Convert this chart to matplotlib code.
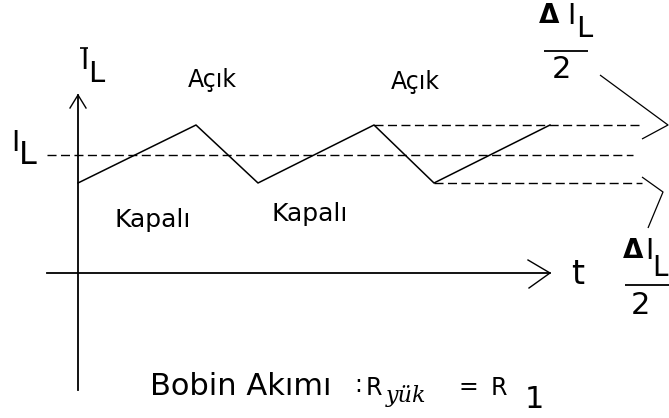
import matplotlib
matplotlib.use("Agg")
import matplotlib.pyplot as plt

# ---- data (t, i_L in drawing units; origin at axis crossing) ----
t_wave = [0, 118, 180, 296, 356, 472]
i_wave = [90, 148, 90, 148, 90, 148]
i_avg = 118
i_max = 148
i_min = 90
t_max_start = 296
t_min_start = 356
state_labels = ["Açık", "Açık", "Kapalı", "Kapalı"]

fig = plt.figure(figsize=(6.69, 4.18), dpi=100)
ax = fig.add_axes([0, 0, 1, 1])
ax.set_xlim(-78, 591)
ax.set_ylim(-145, 273)
ax.axis("off")

K = "black"

def P(px, py):
    return px - 78, 273 - py

def T(px, py, s, size, ha="center", va="center", **kw):
    x, y = P(px, py)
    ax.text(x, y, s, fontsize=size, ha=ha, va=va, color=K, **kw)

def L(pts, lw=1.0, **kw):
    xs = [P(*p)[0] for p in pts]
    ys = [P(*p)[1] for p in pts]
    ax.plot(xs, ys, color=K, lw=lw, solid_capstyle="butt", **kw)

# axes
ax.plot([0, 0], [-117, 178], color=K, lw=1.3)
ax.plot([-31, 472], [0, 0], color=K, lw=1.3)
# arrow heads (open chevrons)
ax.plot([-8, 0, 8], [165, 178, 165], color=K, lw=1.0)
ax.plot([450, 472, 451], [13, 0, -15], color=K, lw=1.0)

# waveform
ax.plot(t_wave, i_wave, color=K, lw=1.1)

# dashed reference lines
dash = (6.5, 3.2)
ax.plot([-31, 555], [i_avg, i_avg], color=K, lw=1.0, dashes=dash)
ax.plot([t_max_start, 564], [i_max, i_max], color=K, lw=1.0, dashes=dash)
ax.plot([t_min_start, 564], [i_min, i_min], color=K, lw=1.0, dashes=dash)

# right pointer lines
L([(600, 75), (668, 125), (642, 139)], lw=0.9)
L([(642, 177), (663, 192), (648, 228)], lw=0.9)

# axis labels
T(84.5, 61, "I", 20)
L([(80, 48), (88, 48)], lw=1.2)
T(96, 74, "L", 21)
T(15.5, 143, "I", 20)
T(28, 156, "L", 23)
T(578, 274, "t", 24)

# state labels
T(212, 80, state_labels[0], 17)
T(415, 82, state_labels[1], 17)
T(153, 227, state_labels[2], 18, va="baseline")
T(310, 221, state_labels[3], 18, va="baseline")

# ΔI_L / 2 (top)
T(549.5, 16, "Δ", 19, fontweight="bold")
T(571, 16, "I", 20)
T(584, 29, "L", 21)
L([(544, 51), (588, 51)], lw=1.3)
T(561.5, 70, "2", 22)

# ΔI_L / 2 (bottom)
T(633, 251, "Δ", 19, fontweight="bold")
T(649, 251, "I", 20)
T(660, 268, "L", 20)
L([(625, 285), (669, 285)], lw=1.3)
T(640.5, 305, "2", 22)

# caption
T(150, 395, "Bobin Akımı", 22, ha="left", va="baseline")
T(358, 392, ":", 17, va="baseline")
T(366, 395, "R", 17, ha="left", va="baseline")
T(386, 402, "yük", 16, ha="left", va="baseline", family="DejaVu Serif", style="italic")
T(468, 394, "=", 17, va="baseline")
T(491, 395, "R", 17, ha="left", va="baseline")
T(534, 400, "1", 22)

fig.savefig("out.png", dpi=100, facecolor="white")
